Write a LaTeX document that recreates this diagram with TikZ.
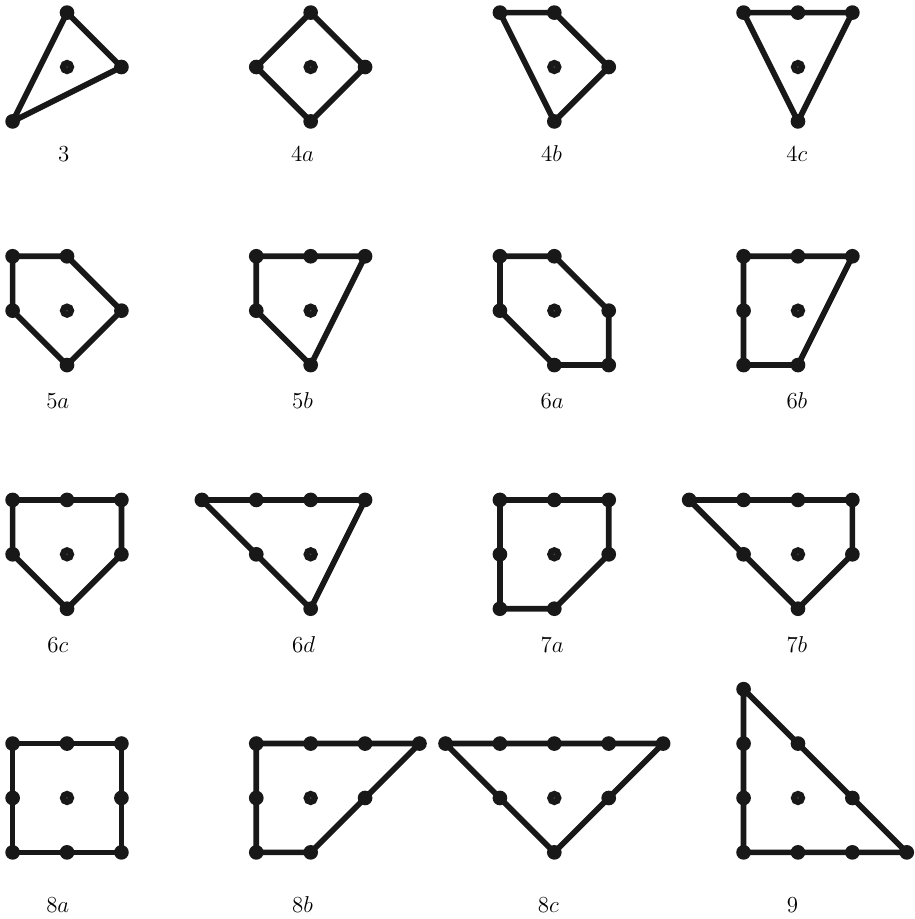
\documentclass[tikz,border=0pt]{standalone}
\usepackage{tikz}
\usepackage{xcolor}
\definecolor{inkcolor}{RGB}{24, 24, 24}
\tikzset{
	polyline/.style={draw=inkcolor, line width=0.105cm, line join=round},
	latpt/.style={shape=circle, fill=inkcolor, inner sep=0pt, minimum size=0.27cm},
	interior/.style={shape=circle, draw=inkcolor, fill=inkcolor!75, line width=0.11cm, inner sep=0pt, minimum size=0.15cm},
	polylabel/.style={font=\large, anchor=base, inner sep=0pt}
}
\begin{document}
\begin{tikzpicture}
	\useasboundingbox (-1.232,1.232) rectangle (15.588,-15.662);

	% row 1
	\begin{scope}[shift={(0,0)}]
		\draw[polyline] (0,1) -- (1,0) -- (-1,-1) -- cycle;
		\foreach \x/\y in {0/1,1/0,-1/-1} \node[latpt] at (\x,\y) {};
		\node (o3) [interior] at (0,0) {};
		\node (l3) [polylabel] at (-0.06,-1.74) {$3$};
	\end{scope}
	\begin{scope}[shift={(4.479,0)}]
		\draw[polyline] (0,1) -- (1,0) -- (0,-1) -- (-1,0) -- cycle;
		\foreach \x/\y in {0/1,1/0,0/-1,-1/0} \node[latpt] at (\x,\y) {};
		\node (o4a) [interior] at (0,0) {};
		\node (l4a) [polylabel] at (-0.15,-1.74) {$4a$};
	\end{scope}
	\begin{scope}[shift={(8.958,0)}]
		\draw[polyline] (-1,1) -- (0,1) -- (1,0) -- (0,-1) -- cycle;
		\foreach \x/\y in {-1/1,0/1,1/0,0/-1} \node[latpt] at (\x,\y) {};
		\node (o4b) [interior] at (0,0) {};
		\node (l4b) [polylabel] at (-0.05,-1.74) {$4b$};
	\end{scope}
	\begin{scope}[shift={(13.437,0)}]
		\draw[polyline] (-1,1) -- (1,1) -- (0,-1) -- cycle;
		\foreach \x/\y in {-1/1,0/1,1/1,0/-1} \node[latpt] at (\x,\y) {};
		\node (o4c) [interior] at (0,0) {};
		\node (l4c) [polylabel] at (-0.02,-1.74) {$4c$};
	\end{scope}

	% row 2
	\begin{scope}[shift={(0,-4.479)}]
		\draw[polyline] (-1,1) -- (0,1) -- (1,0) -- (0,-1) -- (-1,0) -- cycle;
		\foreach \x/\y in {-1/1,0/1,1/0,0/-1,-1/0} \node[latpt] at (\x,\y) {};
		\node (o5a) [interior] at (0,0) {};
		\node (l5a) [polylabel] at (-0.17,-1.79) {$5a$};
	\end{scope}
	\begin{scope}[shift={(4.479,-4.479)}]
		\draw[polyline] (-1,1) -- (1,1) -- (0,-1) -- (-1,0) -- cycle;
		\foreach \x/\y in {-1/1,0/1,1/1,0/-1,-1/0} \node[latpt] at (\x,\y) {};
		\node (o5b) [interior] at (0,0) {};
		\node (l5b) [polylabel] at (-0.15,-1.79) {$5b$};
	\end{scope}
	\begin{scope}[shift={(8.958,-4.479)}]
		\draw[polyline] (-1,1) -- (0,1) -- (1,0) -- (1,-1) -- (0,-1) -- (-1,0) -- cycle;
		\foreach \x/\y in {-1/1,0/1,1/0,1/-1,0/-1,-1/0} \node[latpt] at (\x,\y) {};
		\node (o6a) [interior] at (0,0) {};
		\node (l6a) [polylabel] at (-0.04,-1.79) {$6a$};
	\end{scope}
	\begin{scope}[shift={(13.437,-4.479)}]
		\draw[polyline] (-1,1) -- (1,1) -- (0,-1) -- (-1,-1) -- cycle;
		\foreach \x/\y in {-1/1,0/1,1/1,0/-1,-1/-1,-1/0} \node[latpt] at (\x,\y) {};
		\node (o6b) [interior] at (0,0) {};
		\node (l6b) [polylabel] at (-0.02,-1.79) {$6b$};
	\end{scope}

	% row 3
	\begin{scope}[shift={(0,-8.958)}]
		\draw[polyline] (-1,1) -- (1,1) -- (1,0) -- (0,-1) -- (-1,0) -- cycle;
		\foreach \x/\y in {-1/1,0/1,1/1,1/0,0/-1,-1/0} \node[latpt] at (\x,\y) {};
		\node (o6c) [interior] at (0,0) {};
		\node (l6c) [polylabel] at (-0.17,-1.80) {$6c$};
	\end{scope}
	\begin{scope}[shift={(4.479,-8.958)}]
		\draw[polyline] (-2,1) -- (1,1) -- (0,-1) -- cycle;
		\foreach \x/\y in {-2/1,-1/1,0/1,1/1,0/-1,-1/0} \node[latpt] at (\x,\y) {};
		\node (o6d) [interior] at (0,0) {};
		\node (l6d) [polylabel] at (-0.13,-1.80) {$6d$};
	\end{scope}
	\begin{scope}[shift={(8.958,-8.958)}]
		\draw[polyline] (-1,1) -- (1,1) -- (1,0) -- (0,-1) -- (-1,-1) -- cycle;
		\foreach \x/\y in {-1/1,0/1,1/1,1/0,0/-1,-1/-1,-1/0} \node[latpt] at (\x,\y) {};
		\node (o7a) [interior] at (0,0) {};
		\node (l7a) [polylabel] at (-0.04,-1.80) {$7a$};
	\end{scope}
	\begin{scope}[shift={(13.437,-8.958)}]
		\draw[polyline] (-2,1) -- (1,1) -- (1,0) -- (0,-1) -- cycle;
		\foreach \x/\y in {-2/1,-1/1,0/1,1/1,1/0,0/-1,-1/0} \node[latpt] at (\x,\y) {};
		\node (o7b) [interior] at (0,0) {};
		\node (l7b) [polylabel] at (-0.02,-1.80) {$7b$};
	\end{scope}

	% row 4
	\begin{scope}[shift={(0,-13.437)}]
		\draw[polyline] (-1,1) -- (1,1) -- (1,-1) -- (-1,-1) -- cycle;
		\foreach \x/\y in {-1/1,0/1,1/1,1/0,1/-1,0/-1,-1/-1,-1/0} \node[latpt] at (\x,\y) {};
		\node (o8a) [interior] at (0,0) {};
		\node (l8a) [polylabel] at (-0.17,-2.11) {$8a$};
	\end{scope}
	\begin{scope}[shift={(4.479,-13.437)}]
		\draw[polyline] (-1,1) -- (2,1) -- (0,-1) -- (-1,-1) -- cycle;
		\foreach \x/\y in {-1/1,0/1,1/1,2/1,1/0,0/-1,-1/-1,-1/0} \node[latpt] at (\x,\y) {};
		\node (o8b) [interior] at (0,0) {};
		\node (l8b) [polylabel] at (-0.15,-2.11) {$8b$};
	\end{scope}
	\begin{scope}[shift={(8.958,-13.437)}]
		\draw[polyline] (-2,1) -- (2,1) -- (0,-1) -- cycle;
		\foreach \x/\y in {-2/1,-1/1,0/1,1/1,2/1,1/0,0/-1,-1/0} \node[latpt] at (\x,\y) {};
		\node (o8c) [interior] at (0,0) {};
		\node (l8c) [polylabel] at (-0.11,-2.11) {$8c$};
	\end{scope}
	\begin{scope}[shift={(13.437,-13.437)}]
		\draw[polyline] (-1,2) -- (2,-1) -- (-1,-1) -- cycle;
		\foreach \x/\y in {-1/2,0/1,1/0,2/-1,1/-1,0/-1,-1/-1,-1/0,-1/1} \node[latpt] at (\x,\y) {};
		\node (o9) [interior] at (0,0) {};
		\node (l9) [polylabel] at (-0.10,-2.11) {$9$};
	\end{scope}
\end{tikzpicture}
\end{document}
